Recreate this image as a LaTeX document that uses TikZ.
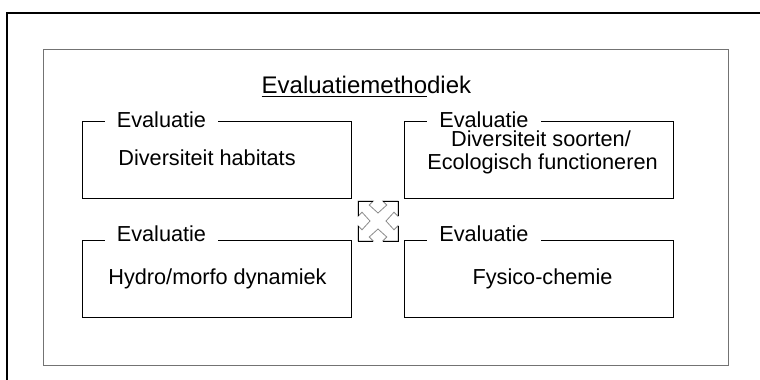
\documentclass[tikz,border=0pt]{standalone}
\usepackage{fontspec}
\setmainfont{Liberation Sans}
% underline drawn as a rule of the exact width of its argument
\newcommand\lineunder[1]{\setbox0\hbox{#1}\rlap{\rule[-3.6pt]{\wd0}{1.2pt}}\box0}

\begin{document}
\begin{tikzpicture}[x=1pt,y=-1pt,
  panel/.style={draw=black, line width=0.8pt, minimum width=269pt, minimum height=77pt, inner sep=0pt},
  tag/.style={fill=white, inner xsep=12pt, inner ysep=0pt, anchor=base west,
              font=\fontsize{21.7}{26}\selectfont},
  body/.style={anchor=base, inner sep=0pt, font=\fontsize{21.7}{26}\selectfont},
  heading/.style={anchor=base west, inner sep=0pt, font=\fontsize{24}{28}\selectfont},
]
\useasboundingbox (0,0) rectangle (760,380);
\fill[white] (0,0) rectangle (760,380);

% outer frame, open to the right and bottom
\draw[line width=1.2pt] (7,380) -- (7,13) -- (760,13);
% inner grey frame
\draw[draw=black!55, line width=0.9pt] (43,49) rectangle (728,365);

% heading
\node[heading] (title) at (261.5,93.3) {\lineunder{Evaluatiemetho}diek};

% four evaluation panels
\node[panel] (p1) at (216.5,159.5) {};
\node[panel] (p2) at (539,159.5) {};
\node[panel] (p3) at (216.5,278.8) {};
\node[panel] (p4) at (539,278.8) {};

% panel tags, cut into the top edge
\node[tag] (t1) at ([shift={(23pt,-7.3pt)}]p1.north west) {Evaluatie};
\node[tag] (t2) at ([shift={(23pt,-7.3pt)}]p2.north west) {Evaluatie};
\node[tag] (t3) at ([shift={(23pt,-2pt)}]p3.north west) {Evaluatie};
\node[tag] (t4) at ([shift={(23pt,-2pt)}]p4.north west) {Evaluatie};

% panel contents
\node[body] (b1) at (207,165.5) {Diversiteit habitats};
\node[body] (b2a) at (541,146.5) {Diversiteit soorten/};
\node[body] (b2b) at (542.5,169.5) {Ecologisch functioneren};
\node[body] (b3) at (217.5,284.3) {Hydro/morfo dynamiek};
\node[body] (b4) at (542.5,284.3) {Fysico-chemie};

% four-way move handle between the panels
\begin{scope}[shift={(358,201)}, x=40pt, y=-40pt]
\filldraw[fill=white, draw=black!45, line width=0.8pt, line join=miter]
  (0,0) -- (0.38,0) -- (0.28,0.1) -- (0.5,0.3) -- (0.72,0.1) -- (0.62,0) --
  (1,0) -- (1,0.38) -- (0.9,0.28) -- (0.7,0.5) -- (0.9,0.72) -- (1,0.62) --
  (1,1) -- (0.62,1) -- (0.72,0.9) -- (0.5,0.7) -- (0.28,0.9) -- (0.38,1) --
  (0,1) -- (0,0.62) -- (0.1,0.72) -- (0.3,0.5) -- (0.1,0.28) -- (0,0.38) -- cycle;
\draw[black, line width=0.8pt, line join=miter]
  (0,0.38) -- (0,0) -- (0.38,0)  (0.62,0) -- (1,0) -- (1,0.38)
  (1,0.62) -- (1,1) -- (0.62,1)  (0.38,1) -- (0,1) -- (0,0.62);
\end{scope}
\end{tikzpicture}
\end{document}
